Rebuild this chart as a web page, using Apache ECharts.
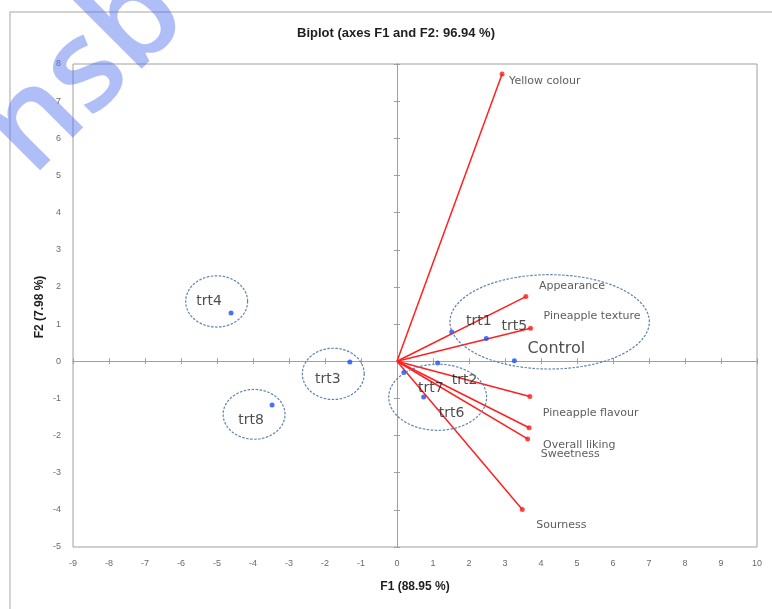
<!DOCTYPE html>
<html>
<head>
<meta charset="utf-8">
<script src="https://cdn.jsdelivr.net/npm/echarts@6/dist/echarts.min.js"></script>
<style>
  html, body { margin: 0; padding: 0; background: #fff; }
  #chart { width: 772px; height: 609px; }
</style>
</head>
<body>
<div id="chart"></div>
<script>
// Observations (product treatments) on the F1/F2 plane
const treatments = ['trt1', 'trt2', 'trt3', 'trt4', 'trt5', 'trt6', 'trt7', 'trt8', 'Control'];
const obsF1 = [1.52, 1.13, -1.31, -4.61, 2.48, 0.74, 0.19, -3.47, 3.26];
const obsF2 = [0.79, -0.05, -0.02, 1.30, 0.61, -0.96, -0.30, -1.18, 0.01];

// Sensory attribute loadings (drawn as vectors from the origin)
const attributes = ['Yellow colour', 'Appearance', 'Pineapple texture', 'Pineapple flavour', 'Overall liking', 'Sweetness', 'Sourness'];
const varF1 = [2.92, 3.58, 3.71, 3.69, 3.67, 3.63, 3.48];
const varF2 = [7.73, 1.74, 0.89, -0.95, -1.79, -2.09, -3.99];

// Grouping outlines: centre F1, centre F2, half-width, half-height (axis units)
const groupCentreF1 = [-5.01, -1.77, -3.97, 1.13, 4.24];
const groupCentreF2 = [1.61, -0.34, -1.43, -0.97, 1.06];
const groupHalfF1 = [0.86, 0.86, 0.86, 1.36, 2.77];
const groupHalfF2 = [0.69, 0.69, 0.67, 0.89, 1.27];

// Axis ranges and ticks
const f1Ticks = [-9, -8, -7, -6, -5, -4, -3, -2, -1, 0, 1, 2, 3, 4, 5, 6, 7, 8, 9, 10];
const f2Ticks = [-5, -4, -3, -2, -1, 0, 1, 2, 3, 4, 5, 6, 7, 8];

// Label placement (pixel offsets from each mark)
const treatmentLabelShift = [[27, -11], [27, 17], [-22, 17], [-22, -12], [28, -12], [28, 16], [27, 16], [-21, 15], [42, -12]];
const attributeLabelShift = [[7, 7], [13, -10], [13, -12], [13, 17], [14, 17], [13, 15], [14, 16]];

const chart = echarts.init(document.getElementById('chart'), null, { renderer: 'canvas' });

const f1Min = f1Ticks[0], f1Max = f1Ticks[f1Ticks.length - 1];
const f2Min = f2Ticks[0], f2Max = f2Ticks[f2Ticks.length - 1];
const axisGray = '#a0a0a0';
const tickFont = { color: '#6a6a6a', fontSize: 9, fontFamily: 'Liberation Sans' };

function zeroX(inside) {
  return {
    type: 'value', min: f1Min, max: f1Max, interval: 1,
    axisLine: { show: true, onZero: true, onZeroAxisIndex: 0, lineStyle: { color: axisGray, width: 1 } },
    axisTick: { show: true, inside: inside, length: 3, lineStyle: { color: axisGray } },
    axisLabel: { show: false }, splitLine: { show: false }
  };
}
function zeroY(inside) {
  return {
    type: 'value', min: f2Min, max: f2Max, interval: 1,
    axisLine: { show: true, onZero: true, onZeroAxisIndex: 0, lineStyle: { color: axisGray, width: 1 } },
    axisTick: { show: true, inside: inside, length: 3, lineStyle: { color: axisGray } },
    axisLabel: { show: false }, splitLine: { show: false }
  };
}

const obsData = treatments.map((name, i) => ({
  name: name,
  value: [obsF1[i], obsF2[i]],
  label: {
    position: [treatmentLabelShift[i][0] + 2.5, treatmentLabelShift[i][1] + 2.5],
    fontSize: name === 'Control' ? 16 : 14
  }
}));

const varData = attributes.map((name, i) => ({
  name: name,
  value: [varF1[i], varF2[i]],
  label: { position: [attributeLabelShift[i][0] + 2.5, attributeLabelShift[i][1] + 2.5] }
}));

const ringData = groupCentreF1.map((c, i) => [c, groupCentreF2[i], groupHalfF1[i], groupHalfF2[i]]);

const option = {
  animation: false,
  backgroundColor: '#ffffff',
  grid: {
    left: 73, right: 15, top: 64, bottom: 62,
    show: true, borderColor: axisGray, borderWidth: 1, backgroundColor: 'transparent'
  },
  xAxis: [
    {
      type: 'value', min: f1Min, max: f1Max, interval: 1, position: 'bottom',
      axisLine: { show: false }, axisTick: { show: false }, splitLine: { show: false },
      axisLabel: Object.assign({ margin: 12 }, tickFont),
      name: 'F1 (88.95 %)', nameLocation: 'middle', nameGap: 34,
      nameTextStyle: { fontFamily: 'Liberation Sans', fontWeight: 'bold', fontSize: 12, color: '#1e1e1e' }
    },
    zeroX(true),
    zeroX(false)
  ],
  yAxis: [
    {
      type: 'value', min: f2Min, max: f2Max, interval: 1, position: 'left',
      axisLine: { show: false }, axisTick: { show: false }, splitLine: { show: false },
      axisLabel: Object.assign({ margin: 12 }, tickFont)
    },
    zeroY(true),
    zeroY(false)
  ],
  graphic: [
    {
      type: 'rect', silent: true, z: 1,
      shape: { x: 10, y: 12, width: 800, height: 700 },
      style: { fill: 'none', stroke: '#c4c4c4', lineWidth: 1.5 }
    },
    {
      type: 'text', x: 396, y: 33, z: 10,
      style: {
        text: 'Biplot (axes F1 and F2: 96.94 %)',
        font: 'bold 13px "Liberation Sans"', fill: '#1e1e1e',
        align: 'center', verticalAlign: 'middle'
      }
    },
    {
      // vertical axis title
      type: 'text', x: 40, y: 307, rotation: Math.PI / 2, z: 10,
      style: {
        text: 'F2 (7.98 %)',
        font: 'bold 12px "Liberation Sans"', fill: '#1e1e1e',
        align: 'center', verticalAlign: 'middle'
      }
    },
    {
      type: 'text', x: 7, y: 152, rotation: Math.PI / 4, z: 100, silent: true,
      style: {
        text: 'nsb',
        font: '600 128px "Open Sans"', fill: 'rgba(80,110,240,0.45)',
        align: 'left', verticalAlign: 'middle'
      }
    }
  ],
  series: [
    {
      // attribute vectors
      type: 'custom', name: 'vectors', xAxisIndex: 0, yAxisIndex: 0, z: 3,
      data: attributes.map((n, i) => [varF1[i], varF2[i]]),
      renderItem: function (params, api) {
        const p0 = api.coord([0, 0]);
        const p1 = api.coord([api.value(0), api.value(1)]);
        return {
          type: 'line',
          shape: { x1: p0[0], y1: p0[1], x2: p1[0], y2: p1[1] },
          style: { stroke: '#ff2020', lineWidth: 1.5 }
        };
      }
    },
    {
      // attribute end points with names
      type: 'scatter', name: 'attributes', xAxisIndex: 0, yAxisIndex: 0, z: 4,
      symbol: 'circle', symbolSize: 5,
      itemStyle: { color: '#ff1a1a' },
      label: {
        show: true, formatter: '{b}', align: 'left', verticalAlign: 'middle',
        fontFamily: 'DejaVu Sans', fontSize: 11, color: '#333333'
      },
      data: varData
    },
    {
      // treatment scores
      type: 'scatter', name: 'treatments', xAxisIndex: 0, yAxisIndex: 0, z: 5,
      symbol: 'circle', symbolSize: 5,
      itemStyle: { color: '#1a4dff' },
      label: {
        show: true, formatter: '{b}', align: 'center', verticalAlign: 'middle',
        fontFamily: 'DejaVu Sans', color: '#222222'
      },
      data: obsData
    },
    {
      // dashed group outlines
      type: 'custom', name: 'groups', xAxisIndex: 0, yAxisIndex: 0, z: 6,
      data: ringData,
      renderItem: function (params, api) {
        const cx = api.value(0), cy = api.value(1), rx = api.value(2), ry = api.value(3);
        const pts = [];
        for (let k = 0; k < 96; k++) {
          const t = (k / 96) * Math.PI * 2;
          pts.push(api.coord([cx + rx * Math.cos(t), cy + ry * Math.sin(t)]));
        }
        return {
          type: 'polygon',
          shape: { points: pts },
          style: { fill: 'none', stroke: '#5f82ad', lineWidth: 1.2, lineDash: [2.5, 1.5] }
        };
      }
    }
  ]
};

chart.setOption(option);
</script>
</body>
</html>
